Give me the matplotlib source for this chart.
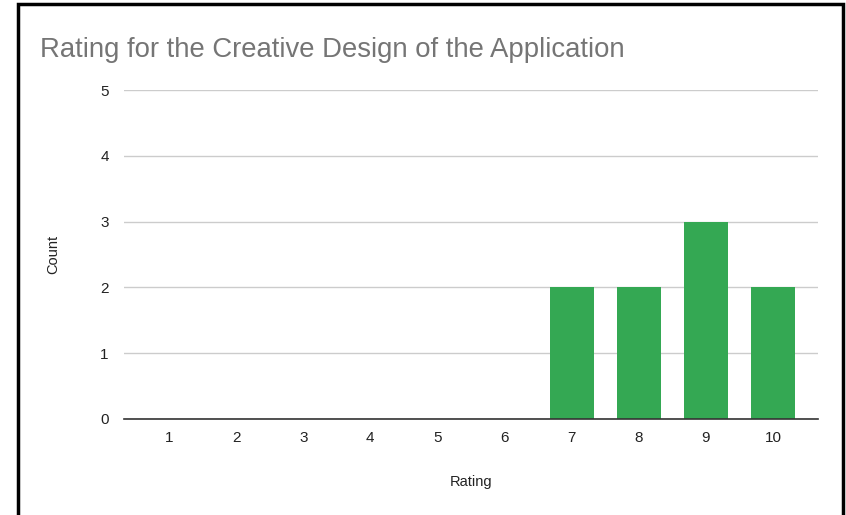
import matplotlib.pyplot as plt
from matplotlib.patches import Rectangle

plt.rcParams['font.family'] = ['Liberation Sans', 'DejaVu Sans']

# survey results
ratings = [1, 2, 3, 4, 5, 6, 7, 8, 9, 10]
counts = [0, 0, 0, 0, 0, 0, 2, 2, 3, 2]
y_ticks = [0, 1, 2, 3, 4, 5]

fig = plt.figure(figsize=(8.46, 5.15), dpi=100)
ax = fig.add_axes([124/846, 96/515, 694/846, 329/515])

ax.bar(ratings, counts, width=0.655, color='#34a853', zorder=3)

ax.set_xlim(0.33, 10.67)
ax.set_ylim(0, 5)
ax.set_xticks(ratings)
ax.set_yticks(y_ticks)
ax.tick_params(length=0, labelsize=11, labelcolor='#222222')
ax.tick_params(axis='y', pad=11)
ax.tick_params(axis='x', pad=9)

ax.grid(True, axis='y', color='#cccccc', linewidth=1, zorder=0)
for s in ['top', 'right', 'left']:
    ax.spines[s].set_visible(False)
ax.spines['bottom'].set_color('#333333')
ax.spines['bottom'].set_linewidth(1.2)
ax.spines['bottom'].set_zorder(4)

ax.set_xlabel('Rating', fontsize=10.5, color='#222222', labelpad=21)
ax.set_ylabel('Count', fontsize=10.5, color='#222222', labelpad=29)

fig.text(40/846, 1 - 50/515, 'Rating for the Creative Design of the Application',
         fontsize=19.8, color='#757575', va='center', ha='left')

# frame around the screenshot
fig.add_artist(Rectangle((18/846, -0.02), 825/846, 1 - 4/515 + 0.02,
                         transform=fig.transFigure, fill=False,
                         edgecolor='black', linewidth=2.5))

fig.savefig('out.png', dpi=100)
